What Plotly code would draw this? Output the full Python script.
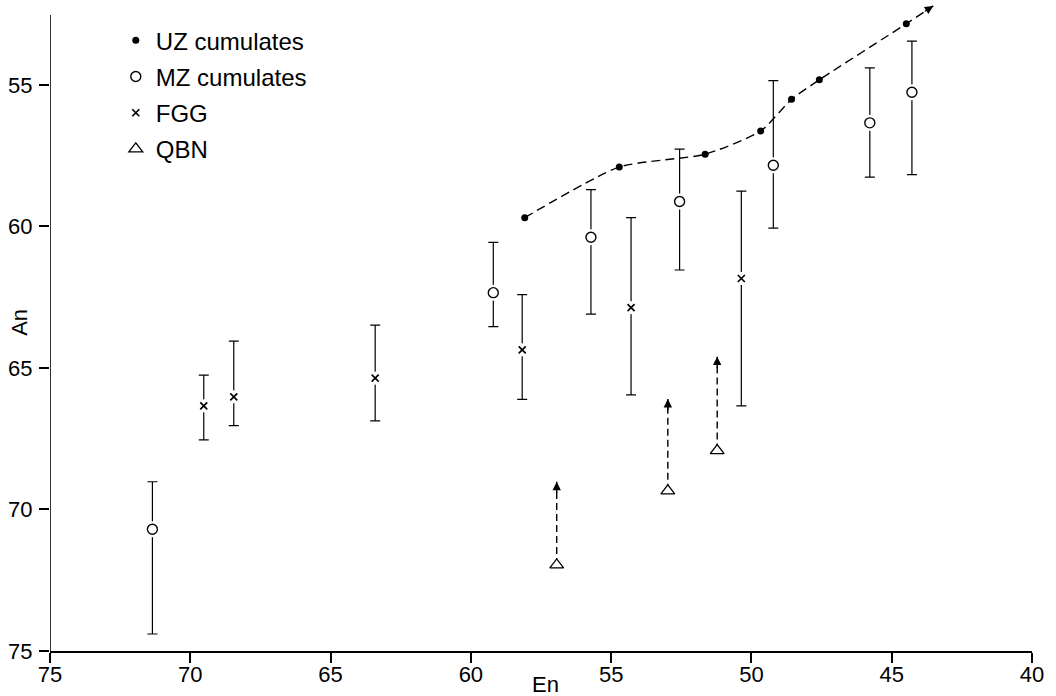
import plotly.graph_objects as go

# ---------------- data ----------------
# MZ cumulates: En, An, and error-bar ends (top = smaller An, bottom = larger An)
mz_en = [71.35, 59.20, 55.72, 52.56, 49.22, 45.78, 44.28]
mz_an = [70.70, 62.34, 60.38, 59.12, 57.84, 56.34, 55.26]
mz_top = [69.02, 60.56, 58.70, 57.27, 54.85, 54.40, 53.45]
mz_bot = [74.40, 63.54, 63.10, 61.54, 60.06, 58.26, 58.17]

# FGG
fgg_en = [69.52, 68.45, 63.41, 58.17, 54.29, 50.36]
fgg_an = [66.34, 66.02, 65.36, 64.36, 62.87, 61.84]
fgg_top = [65.25, 64.05, 63.49, 62.41, 59.69, 58.75]
fgg_bot = [67.54, 67.04, 66.87, 66.11, 65.95, 66.34]

# UZ cumulates (trend with arrow)
uz_en = [58.08, 54.71, 51.65, 49.67, 48.57, 47.58, 44.48]
uz_an = [59.69, 57.90, 57.45, 56.63, 55.51, 54.82, 52.84]
uz_arrow_en = 43.52
uz_arrow_an = 52.21

# QBN with upward arrows
qbn_en = [56.94, 52.98, 51.22]
qbn_an = [71.96, 69.34, 67.92]
qbn_arrow_an = [69.02, 66.10, 64.60]

x_ticks = [75, 70, 65, 60, 55, 50, 45, 40]
y_ticks = [55, 60, 65, 70, 75]
x_range = [75, 40]
y_range = [75, 52.0]
y_axis_top = 52.53

FONT = "Liberation Sans, Arial, Helvetica, sans-serif"
BLACK = "black"

fig = go.Figure()

# --- error bars (MZ) ---
fig.add_trace(go.Scatter(
    x=mz_en, y=mz_an, mode="markers", showlegend=False, hoverinfo="skip",
    marker=dict(size=1, color="rgba(0,0,0,0)"),
    error_y=dict(type="data", symmetric=False,
                 array=[b - a for a, b in zip(mz_an, mz_bot)],
                 arrayminus=[a - t for a, t in zip(mz_an, mz_top)],
                 color=BLACK, thickness=1.2, width=5),
))
# --- error bars (FGG) ---
fig.add_trace(go.Scatter(
    x=fgg_en, y=fgg_an, mode="markers", showlegend=False, hoverinfo="skip",
    marker=dict(size=1, color="rgba(0,0,0,0)"),
    error_y=dict(type="data", symmetric=False,
                 array=[b - a for a, b in zip(fgg_an, fgg_bot)],
                 arrayminus=[a - t for a, t in zip(fgg_an, fgg_top)],
                 color=BLACK, thickness=1.2, width=5),
))
# white gaps around symbols
fig.add_trace(go.Scatter(x=mz_en, y=mz_an, mode="markers", showlegend=False, hoverinfo="skip",
                         marker=dict(symbol="circle", size=16, color="white")))
fig.add_trace(go.Scatter(x=fgg_en, y=fgg_an, mode="markers", showlegend=False, hoverinfo="skip",
                         marker=dict(symbol="square", size=13, color="white")))

# UZ dashed trend line with arrow end
fig.add_trace(go.Scatter(
    x=uz_en + [uz_arrow_en], y=uz_an + [uz_arrow_an], mode="lines", showlegend=False,
    hoverinfo="skip", line=dict(color=BLACK, width=1.4, dash="9px,5px", shape="spline", smoothing=0.6),
))

# QBN dashed arrows
for xe, ya, yt in zip(qbn_en, qbn_an, qbn_arrow_an):
    fig.add_trace(go.Scatter(
        x=[xe, xe], y=[ya, yt], mode="lines", showlegend=False, hoverinfo="skip",
        line=dict(color=BLACK, width=1.4, dash="7px,4px"),
    ))
    fig.add_annotation(x=xe, y=yt, ax=xe, ay=yt + 0.45, axref="x", ayref="y",
                       xref="x", yref="y", text="", showarrow=True,
                       arrowhead=2, arrowsize=1.2, arrowwidth=1.4, arrowcolor=BLACK)

fig.add_annotation(x=uz_arrow_en, y=uz_arrow_an,
                   ax=uz_arrow_en + 0.35, ay=uz_arrow_an + 0.22, axref="x", ayref="y",
                   xref="x", yref="y", text="", showarrow=True,
                   arrowhead=2, arrowsize=1.2, arrowwidth=1.4, arrowcolor=BLACK)

# visible symbols (these carry the legend)
fig.add_trace(go.Scatter(x=uz_en, y=uz_an, mode="markers", name="UZ cumulates", legendgroup="uz",
                         marker=dict(symbol="circle", size=7, color=BLACK)))
fig.add_trace(go.Scatter(x=mz_en, y=mz_an, mode="markers", name="MZ cumulates", legendgroup="mz",
                         marker=dict(symbol="circle", size=10, color="white",
                                     line=dict(color=BLACK, width=1.4))))
fig.add_trace(go.Scatter(x=fgg_en, y=fgg_an, mode="markers", name="FGG", legendgroup="fgg",
                         marker=dict(symbol="x-thin", size=7, color=BLACK,
                                     line=dict(color=BLACK, width=1.7))))
fig.add_trace(go.Scatter(x=qbn_en, y=qbn_an, mode="markers", name="QBN", legendgroup="qbn",
                         marker=dict(symbol="triangle-up", size=12, color="white",
                                     line=dict(color=BLACK, width=1.3))))

# y axis line (hand-drawn style: stops below the top)
fig.add_shape(type="line", xref="x", yref="y", x0=x_range[0], x1=x_range[0],
              y0=y_range[0], y1=y_axis_top, line=dict(color=BLACK, width=1.6))

# axis titles
fig.add_annotation(text="En", xref="paper", yref="paper", x=0.505, y=-0.0515,
                   xanchor="center", yanchor="middle", showarrow=False,
                   font=dict(size=22, family=FONT, color=BLACK))
fig.add_annotation(text="An", xref="paper", yref="paper", x=-0.031, y=0.505,
                   xanchor="center", yanchor="middle", showarrow=False, textangle=-90,
                   font=dict(size=22, family=FONT, color=BLACK))

fig.update_layout(
    width=1056, height=696,
    margin=dict(l=50, r=24, t=0, b=45),
    plot_bgcolor="white", paper_bgcolor="white",
    font=dict(family=FONT, size=22, color=BLACK),
    xaxis=dict(range=x_range, tickvals=x_ticks, ticks="outside", ticklen=10, tickwidth=1.5,
               tickcolor=BLACK, showline=True, linecolor=BLACK, linewidth=1.6,
               showgrid=False, zeroline=False, ticklabelstandoff=-7),
    yaxis=dict(range=y_range, tickvals=y_ticks, ticks="outside", ticklen=10, tickwidth=1.5,
               tickcolor=BLACK, showline=False, showgrid=False, zeroline=False,
               ticklabelstandoff=2),
    showlegend=True,
    legend=dict(x=0.067, y=0.972, xanchor="left", yanchor="top",
                font=dict(size=24, family=FONT, color=BLACK),
                bgcolor="rgba(0,0,0,0)", borderwidth=0, tracegroupgap=2),
    hovermode=False,
)

fig.write_html("out.html",
               config={"displayModeBar": False},
               post_script="document.body.style.margin='0';document.body.style.overflow='hidden';")
